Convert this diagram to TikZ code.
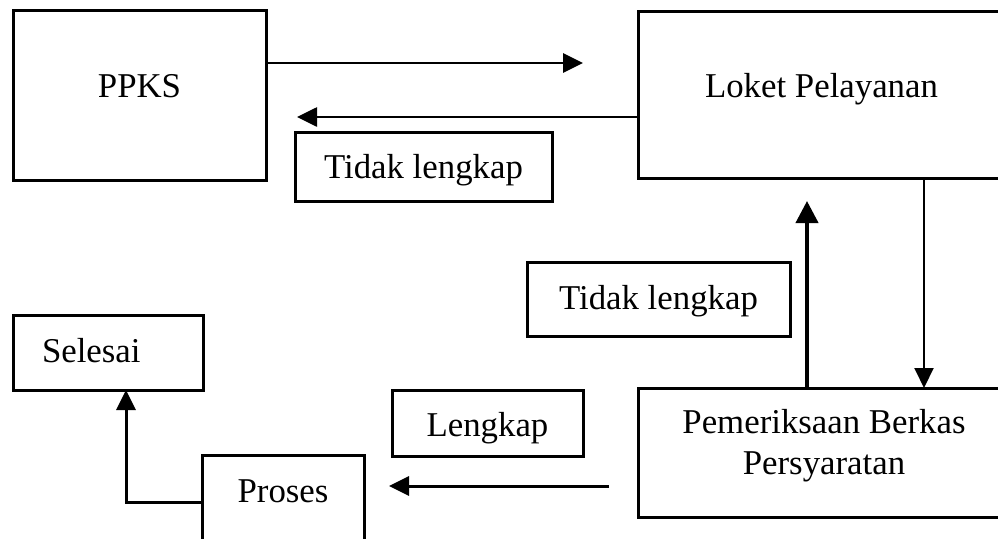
\documentclass[tikz,border=0pt]{standalone}
\usepackage{fontspec}
\setmainfont{Liberation Serif}
\usetikzlibrary{arrows.meta}

\tikzset{
  kotak/.style={draw, line width=3pt, outer sep=0pt, inner sep=0pt,
    anchor=north west, align=center, text height=24pt},
  >={Triangle[length=20pt,width=19pt]}
}

\begin{document}
\begin{tikzpicture}[x=1pt, y=-1pt, font=\fontsize{34.8}{41}\selectfont]
  \useasboundingbox (0,0) rectangle (998,538);
  \clip (0,0) rectangle (998,538);
  % kotak-kotak
  \node[kotak, minimum width=253pt, minimum height=170pt, text depth=20pt] (ppks) at (13,10) {PPKS};
  \node[kotak, minimum width=367pt, minimum height=167pt, text depth=19pt] (loket) at (638,11) {Loket Pelayanan};
  \node[kotak, minimum width=257pt, minimum height=69pt, text depth=1pt] (tidak1) at (295,132) {Tidak lengkap};
  \node[kotak, minimum width=263pt, minimum height=74pt, text depth=4pt] (tidak2) at (527,262) {Tidak lengkap};
  \node[kotak, align=left, text width=132pt, inner xsep=29pt, minimum height=75pt, text depth=5pt] (selesai) at (13,315) {Selesai};
  \node[kotak, minimum width=191pt, minimum height=66pt, text height=27.4pt, text depth=0pt] (lengkap) at (392,390) {Lengkap};
  \node[kotak, minimum width=372pt, minimum height=129pt, text height=65pt, text depth=22pt] (periksa) at (638,388) {Pemeriksaan Berkas\\Persyaratan};
  \node[kotak, minimum width=162pt, minimum height=110pt, text depth=40pt] (proses) at (202,455) {Proses};
  % ujung panah
  \coordinate (ujung1) at (583,63);
  \coordinate (ujung2) at (297,117);
  \coordinate (turun) at (924,300);
  \coordinate (naik) at (807,201);
  \coordinate (lk1) at (609,486);
  \coordinate (lk2) at (389,486);
  \coordinate (belok) at (126,502);
  \path[->]
  (ppks.east |- ujung1) edge [line width=2.7pt] (ujung1)
  (loket.west |- ujung2) edge [line width=2.7pt] (ujung2)
  (loket.south -| turun) edge [line width=2pt] (periksa.north -| turun)
  (periksa.north -| naik) edge [line width=4pt, >={Triangle[length=22pt,width=22pt]}] (naik)
  (lk1) edge [line width=3pt] (lk2)
  ;
  \draw[->, line width=3pt] (proses.west |- belok) -| (selesai.south -| belok);
\end{tikzpicture}
\end{document}
